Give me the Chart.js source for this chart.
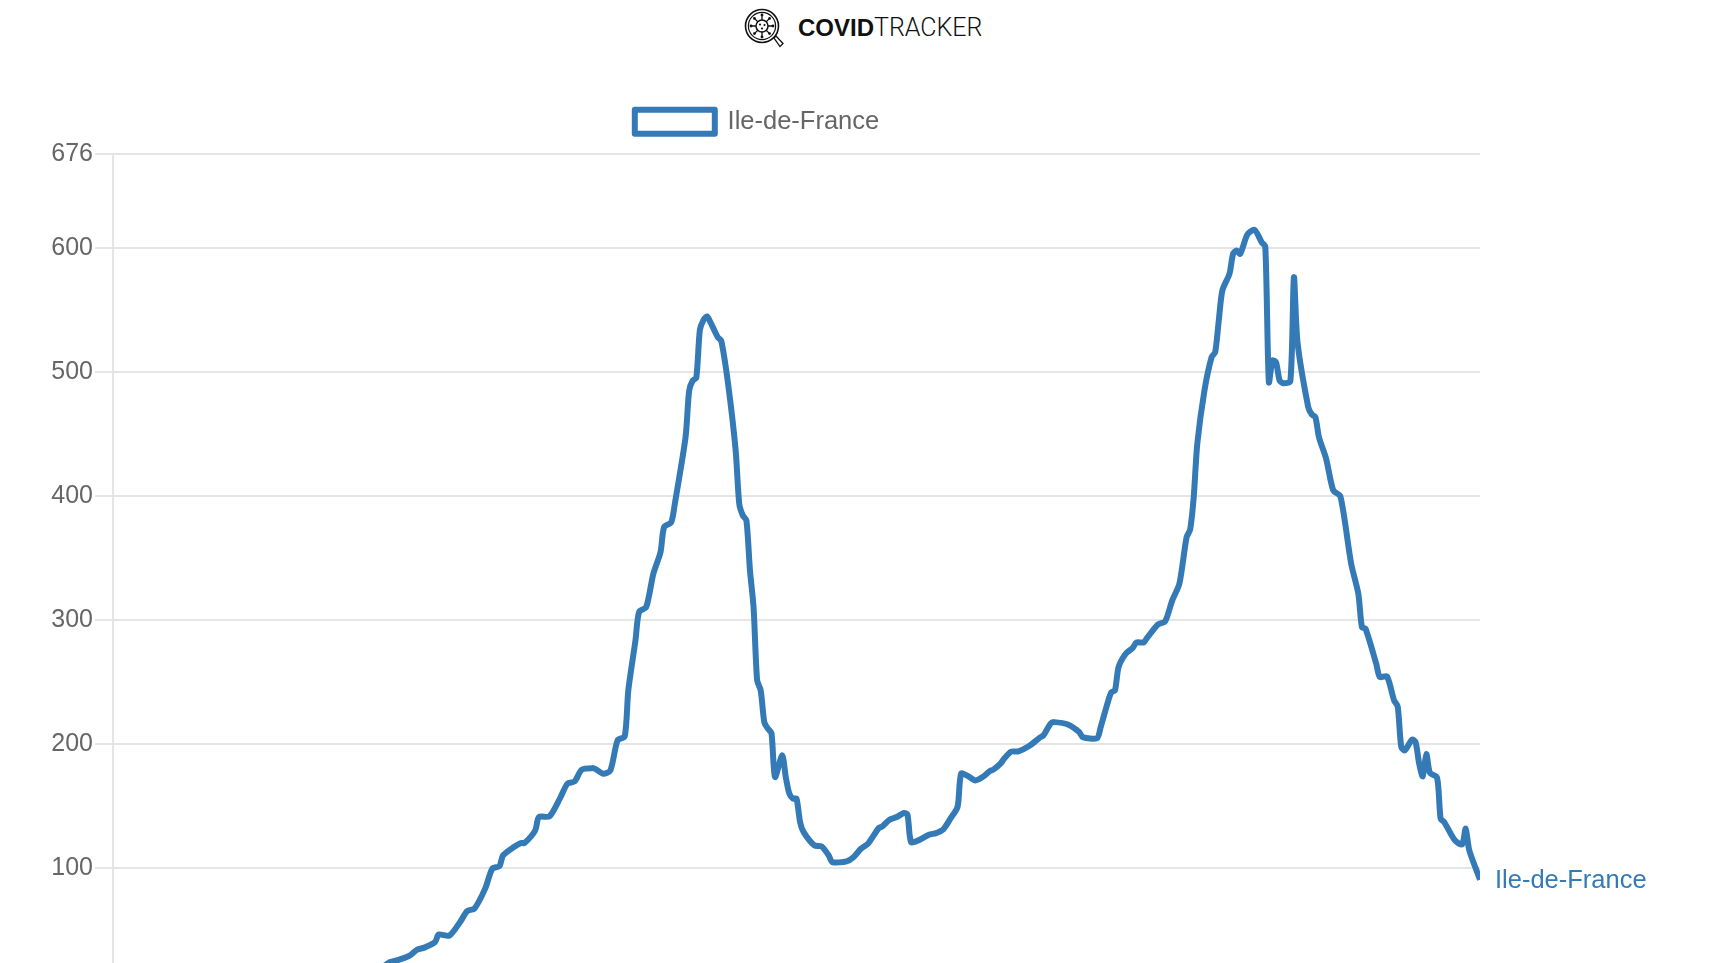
<!DOCTYPE html>
<html>
<head>
<meta charset="utf-8">
<title>COVIDTracker</title>
<script src="https://cdn.jsdelivr.net/npm/chart.js@4"></script>
<style>
    html, body { margin: 0; height: 100%; overflow: hidden; background: #fff; }
    #page { position: relative; width: 1712px; height: 963px; overflow: hidden; }
    #logo { position: absolute; left: 744px; top: 7px; width: 40px; height: 42px; }
    #brand { position: absolute; left: 798px; top: 14px; font-size: 24px; line-height: 28px; color: #111; white-space: nowrap; }
    #brand b { font-family: 'Liberation Sans'; font-weight: 700; }
    #brand span { font-family: Roboto; font-weight: 300; font-size: 25px; }
    canvas { position: absolute; left: 0; top: 0; }
</style>
</head>
<body>
<div id="page">
    <svg id="logo" viewBox="0 0 40 42" fill="none" stroke="#111">
        <circle cx="18" cy="19" r="16.5" stroke-width="1.6"/>
        <circle cx="18" cy="19" r="13.6" stroke-width="1.2"/>
        <circle cx="18" cy="19" r="6" stroke-width="1.5"/>
        <path d="M18 13V8M18 25v5M12 19H7M24 19h5M13.8 14.8l-3.4-3.4M22.2 23.2l3.4 3.4M22.2 14.8l3.4-3.4M13.8 23.2l-3.4 3.4" stroke-width="1.3"/>
        <g fill="#111" stroke="none">
            <circle cx="18" cy="8" r="1.4"/><circle cx="18" cy="30" r="1.4"/><circle cx="7" cy="19" r="1.4"/><circle cx="29" cy="19" r="1.4"/>
            <circle cx="10.4" cy="11.4" r="1.4"/><circle cx="25.6" cy="26.6" r="1.4"/><circle cx="25.6" cy="11.4" r="1.4"/><circle cx="10.4" cy="26.6" r="1.4"/>
            <circle cx="16" cy="17.5" r="1.1"/><circle cx="20.5" cy="18" r="1.1"/><circle cx="18" cy="21.5" r="1.1"/>
        </g>
        <path d="M30 31l2-2 7 7.5-3 3z" stroke-width="1.3" fill="#fff"/>
    </svg>
    <div id="brand"><b>COVID</b><span>TRACKER</span></div>
    <canvas id="incidence" width="1712" height="1010"></canvas>
</div>
<script>
const regionName = 'Ile-de-France';
const lineColor = '#337ab7';

// days since the start of the series, and the value read at that day
const days = [0, 10, 25, 40, 50, 60, 70, 74, 77, 80, 83, 85, 87, 90, 91, 94, 97, 99, 101, 104, 106, 108, 109, 112, 114, 115, 118, 119, 122, 125, 127, 129, 131, 134, 135, 137, 139, 141, 143, 144, 146, 147, 149, 151, 153, 154, 156, 157, 160, 161, 162, 163, 164, 165, 166, 167, 169, 170, 172, 174, 175, 176, 177, 178, 179, 180, 181, 182, 183, 184, 185, 187, 188, 189, 190, 191, 192, 193, 196, 198, 200, 201, 205, 207, 209, 211, 214, 215, 217, 219, 221, 222, 223, 225, 228, 230, 232, 234, 236, 237, 239, 241, 243, 245, 246, 248, 249, 251, 253, 256, 259, 260, 262, 263, 267, 270, 271, 275, 276, 278, 279, 280, 281, 283, 285, 286, 288, 289, 292, 294, 296, 298, 300, 301, 302, 303, 305, 307, 308, 309, 310, 312, 313, 314, 315, 317, 319, 321, 322, 323, 324, 325, 326, 327, 329, 330, 331, 334, 335, 336, 337, 339, 341, 343, 346, 348, 349, 350, 353, 354, 356, 358, 359, 360, 361, 363, 364, 365, 366, 367, 368, 370, 371, 372, 375, 377, 378, 379, 382];
const values = [20, 15, 12, 9, 9, 10, 13, 17, 23.5, 26.1, 29.6, 34.2, 35.8, 40.3, 46.3, 45.5, 56.5, 65.3, 67.3, 83.4, 99.5, 101.6, 110.2, 116.9, 120.2, 120.2, 130.4, 141.1, 141.7, 156.8, 168.1, 169.9, 179.4, 180.6, 179.6, 176.1, 178.8, 203, 206.2, 243.3, 283.6, 306.5, 310.5, 337.4, 354.8, 375, 379, 393.9, 447.6, 485, 493.3, 495.5, 534.2, 542, 545, 540, 528.2, 525, 488, 436.9, 393.9, 384.4, 380.4, 340, 310.5, 251.4, 243.3, 217.7, 212.4, 208.9, 173.4, 190.9, 173.4, 160, 156, 156, 137.1, 129, 118.3, 117.5, 110.2, 104.8, 105.4, 108.9, 115.6, 119.7, 132.3, 133.6, 139, 141.1, 144.4, 143.3, 121, 122.3, 126.9, 128.2, 131.2, 139.8, 149.2, 176.1, 174, 170.7, 173.4, 178.2, 179.4, 184.2, 188.2, 193.9, 194.1, 198.4, 205.2, 207, 216.5, 217.7, 215.6, 209.7, 205.6, 204.8, 213.7, 233.9, 241.9, 243.3, 262.1, 272.9, 277.7, 282, 282, 285.8, 296.5, 298.9, 315.9, 329.4, 366.7, 373.1, 399.2, 442.3, 485.2, 512.1, 516.1, 541.7, 565.9, 579.4, 595.5, 598.1, 595.5, 611, 614.8, 604.8, 601.4, 491.9, 509.4, 508, 493.3, 491.1, 492.7, 576.6, 524.2, 471.8, 465.9, 463.7, 447.6, 430.2, 404.6, 399.8, 345.5, 321.3, 294.4, 293.1, 264.8, 254, 254.6, 235.2, 230.4, 197.6, 194.9, 203.5, 201.6, 184.2, 173.9, 192, 176.8, 172.9, 139.8, 137.1, 122.3, 119.1, 131.8, 114.3, 90.6];
const yMax = 676;

// extra room under the legend
const legendGap = {
    id: 'legendGap',
    beforeInit(chart) {
        const fit = chart.legend.fit;
        chart.legend.fit = function () {
            fit.call(this);
            this.height += 9.5;
        };
    }
};

// name of the region written next to the last point of the line
const endLabel = {
    id: 'endLabel',
    afterDraw(chart) {
        const pts = chart.getDatasetMeta(0).data;
        const last = pts[pts.length - 1];
        const ctx = chart.ctx;
        ctx.save();
        ctx.font = "25.5px 'Liberation Sans'";
        ctx.fillStyle = lineColor;
        ctx.textBaseline = 'middle';
        ctx.fillText(regionName, last.x + 15, last.y + 1);
        ctx.restore();
    }
};

new Chart(document.getElementById('incidence'), {
    type: 'line',
    data: {
        datasets: [{
            label: regionName,
            data: days.map((d, i) => ({ x: d, y: values[i] })),
            borderColor: lineColor,
            backgroundColor: '#fff',
            borderWidth: 6,
            borderJoinStyle: 'round',
            pointRadius: 0,
            fill: false,
            clip: 0,
            tension: 0.25
        }]
    },
    plugins: [legendGap, endLabel],
    options: {
        responsive: false,
        animation: false,
        devicePixelRatio: 1,
        layout: { padding: { left: 34, right: 232, top: 79, bottom: 0 } },
        plugins: {
            tooltip: { enabled: false },
            legend: {
                labels: {
                    boxWidth: 80,
                    boxHeight: 24,
                    padding: 30,
                    color: '#666',
                    font: { size: 25.5, family: "'Liberation Sans'" }
                }
            }
        },
        scales: {
            x: {
                type: 'linear',
                min: 0,
                max: 382,
                grid: { display: false },
                ticks: { display: false },
                border: { display: false },
                afterFit(scale) { scale.height = 18; }
            },
            y: {
                min: 0,
                max: yMax,
                grid: { color: 'rgba(0,0,0,0.1)', lineWidth: 2, tickLength: 18 },
                border: { color: 'rgba(0,0,0,0.1)', width: 2 },
                ticks: {
                    stepSize: 100,
                    padding: 2,
                    color: '#666',
                    font: { size: 25, family: "'Liberation Sans'" }
                },
                afterFit(scale) { scale.width = 79; }
            }
        }
    }
});
</script>
</body>
</html>
